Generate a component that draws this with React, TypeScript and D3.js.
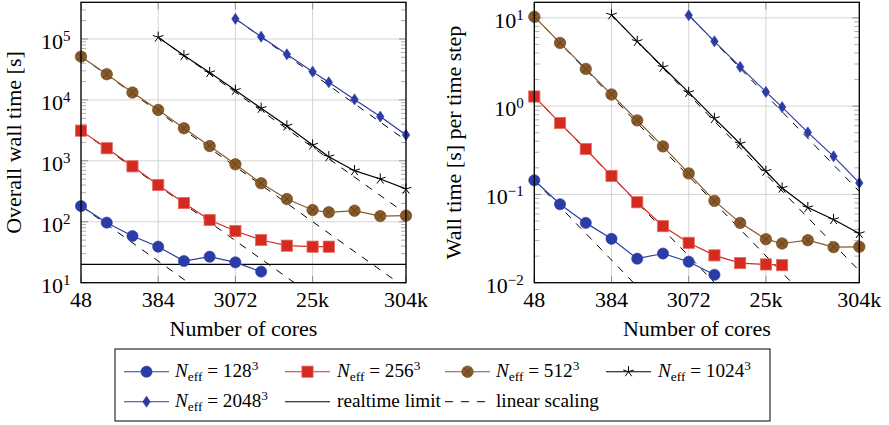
import React from 'react';
import * as d3 from 'd3';

// ---------- data ----------
const cores = [48, 96, 192, 384, 768, 1536, 3072, 6144, 12288, 24576, 38016, 76032, 152064, 304128];
const xTickValues = [48, 384, 3072, 24576, 304128];
const xTickLabels = ['48', '384', '3072', '25k', '304k'];

// overall wall time [s]
const wall128 = [181, 96.7, 58.4, 39.0, 22.7, 26.7, 21.6, 15.2];
const wall256 = [3130, 1610, 813, 402, 203, 107, 70.5, 50.2, 40.5, 39.0, 39.0];
const wall512 = [51400, 26400, 13200, 6840, 3420, 1750, 877, 428, 236, 156, 143, 152, 124, 126];
const wall1024 = [107000, 53400, 28100, 14400, 7290, 3740, 1820, 1170, 690, 504, 345];
const wall2048 = [214000, 109000, 56100, 29100, 19500, 10200, 5320, 2660];
const realtimeLimit = 20;

// wall time [s] per time step
const step128 = [0.1446, 0.0774, 0.0476, 0.0314, 0.0187, 0.0214, 0.0173, 0.0123];
const step256 = [1.285, 0.643, 0.327, 0.162, 0.0815, 0.0437, 0.0283, 0.0204, 0.0167, 0.0161, 0.0158];
const step512 = [10.3, 5.2, 2.64, 1.355, 0.689, 0.35, 0.173, 0.0845, 0.0476, 0.0311, 0.0278, 0.0303, 0.0253, 0.0255];
const step1024 = [10.8, 5.42, 2.76, 1.43, 0.726, 0.375, 0.183, 0.118, 0.071, 0.052, 0.0361];
const step2048 = [10.7, 5.42, 2.78, 1.45, 0.975, 0.504, 0.27, 0.135];

// index into cores where each series starts
const seriesNames = ['128', '256', '512', '1024', '2048'];
const seriesStart = [0, 0, 0, 3, 6];
const seriesMarker = ['circle', 'square', 'otimes', 'star', 'diamond'];
const seriesColor = ['#2c3ca6', '#d42a20', '#8a5a2a', '#000000', '#2c3ca6'];

const leftYTicks = [10, 100, 1000, 10000, 100000];
const leftYExp = ['1', '2', '3', '4', '5'];
const rightYTicks = [0.01, 0.1, 1, 10];
const rightYExp = ['\u22122', '\u22121', '0', '1'];

const FONT = 'Liberation Serif, Times New Roman, serif';
const AX = { fontFamily: FONT, fontSize: 22 } as React.CSSProperties;
const LG = { fontFamily: FONT, fontSize: 19.2 } as React.CSSProperties;
const GRID = '#d4d4d4';
const DASH = '7.5,7.5';

function Marker({ type, x, y, color }: { type: string; x: number; y: number; color: string }) {
  if (type === 'circle') {
    return <circle cx={x} cy={y} r={5.6} fill={color} stroke={color} strokeWidth={0.6} />;
  }
  if (type === 'square') {
    return <rect x={x - 5.6} y={y - 5.6} width={11.2} height={11.2} fill={color} stroke="#e86a60" strokeWidth={0.8} />;
  }
  if (type === 'otimes') {
    const r = 5.7;
    const d = r * 0.68;
    return (
      <g>
        <circle cx={x} cy={y} r={r} fill={color} stroke="#6e4a22" strokeWidth={0.7} />
        <line x1={x - d} y1={y - d} x2={x + d} y2={y + d} stroke="#5a3a18" strokeWidth={0.8} />
        <line x1={x - d} y1={y + d} x2={x + d} y2={y - d} stroke="#5a3a18" strokeWidth={0.8} />
      </g>
    );
  }
  if (type === 'star') {
    const r = 5.6;
    return (
      <g>
        {[0, 1, 2, 3, 4].map((k) => {
          const a = (-90 + 72 * k) * Math.PI / 180;
          return <line key={k} x1={x} y1={y} x2={x + r * Math.cos(a)} y2={y + r * Math.sin(a)} stroke={color} strokeWidth={1} />;
        })}
      </g>
    );
  }
  return <polygon points={`${x},${y - 5.6} ${x + 3.8},${y} ${x},${y + 5.6} ${x - 3.8},${y}`} fill={color} stroke={color} strokeWidth={0.5} />;
}

type PanelProps = {
  left: number;
  right: number;
  top: number;
  bottom: number;
  yDomain: [number, number];
  yTicks: number[];
  yExp: string[];
  series: number[][];
  realtime?: number;
  yLabel: string;
  yLabelX: number;
  id: string;
};

function Panel(p: PanelProps) {
  const x = d3.scaleLog().domain([cores[0], cores[cores.length - 1]]).range([p.left, p.right]);
  const y = d3.scaleLog().domain(p.yDomain).range([p.bottom, p.top]);
  const minor: number[] = [];
  const e0 = Math.floor(Math.log10(p.yDomain[0]));
  const e1 = Math.ceil(Math.log10(p.yDomain[1]));
  for (let e = e0; e <= e1; e++) {
    for (let m = 2; m <= 9; m++) {
      const v = m * Math.pow(10, e);
      if (v > p.yDomain[0] && v < p.yDomain[1]) minor.push(v);
    }
  }
  const line = d3.line<[number, number]>().x((d) => x(d[0])).y((d) => y(d[1]));
  const clipId = 'clip-' + p.id;
  const xMax = cores[cores.length - 1];
  return (
    <g>
      <defs>
        <clipPath id={clipId}>
          <rect x={p.left} y={p.top} width={p.right - p.left} height={p.bottom - p.top} />
        </clipPath>
      </defs>
      {xTickValues.map((v, i) => (
        <line key={'gx' + i} x1={x(v)} x2={x(v)} y1={p.top} y2={p.bottom} stroke={GRID} strokeWidth={1} />
      ))}
      {p.yTicks.map((v, i) => (
        <line key={'gy' + i} x1={p.left} x2={p.right} y1={y(v)} y2={y(v)} stroke={GRID} strokeWidth={1} />
      ))}
      {minor.map((v, i) => (
        <g key={'mn' + i}>
          <line x1={p.left} x2={p.left + 5} y1={y(v)} y2={y(v)} stroke="#9a9a9a" strokeWidth={0.8} />
          <line x1={p.right - 5} x2={p.right} y1={y(v)} y2={y(v)} stroke="#9a9a9a" strokeWidth={0.8} />
        </g>
      ))}
      {p.yTicks.map((v, i) => (
        <g key={'mj' + i}>
          <line x1={p.left} x2={p.left + 7} y1={y(v)} y2={y(v)} stroke="#888" strokeWidth={0.9} />
          <line x1={p.right - 7} x2={p.right} y1={y(v)} y2={y(v)} stroke="#888" strokeWidth={0.9} />
        </g>
      ))}
      {xTickValues.map((v, i) => (
        <g key={'mx' + i}>
          <line x1={x(v)} x2={x(v)} y1={p.bottom} y2={p.bottom - 7} stroke="#888" strokeWidth={0.9} />
          <line x1={x(v)} x2={x(v)} y1={p.top} y2={p.top + 7} stroke="#888" strokeWidth={0.9} />
        </g>
      ))}
      <g clipPath={`url(#${clipId})`}>
        {p.series.map((s, i) => {
          const x0 = cores[seriesStart[i]];
          const y0 = s[0];
          const pts: [number, number][] = [[x0, y0], [xMax, (y0 * x0) / xMax]];
          return <path key={'ls' + i} d={line(pts) || ''} fill="none" stroke="#000" strokeWidth={1} strokeDasharray={DASH} />;
        })}
        {p.realtime !== undefined && (
          <line x1={p.left} x2={p.right} y1={y(p.realtime)} y2={y(p.realtime)} stroke="#000" strokeWidth={1.1} />
        )}
        {p.series.map((s, i) => {
          const pts: [number, number][] = s.map((v, j) => [cores[seriesStart[i] + j], v]);
          return <path key={'sl' + i} d={line(pts) || ''} fill="none" stroke={seriesColor[i]} strokeWidth={1.2} />;
        })}
      </g>
      {p.series.map((s, i) => (
        <g key={'mk' + i}>
          {s.map((v, j) => (
            <Marker key={j} type={seriesMarker[i]} x={x(cores[seriesStart[i] + j])} y={y(v)} color={seriesColor[i]} />
          ))}
        </g>
      ))}
      <rect x={p.left} y={p.top} width={p.right - p.left} height={p.bottom - p.top} fill="none" stroke="#000" strokeWidth={1.3} />
      {xTickValues.map((v, i) => (
        <text key={'xl' + i} x={x(v)} y={p.bottom + 24} textAnchor="middle" style={AX}>
          {xTickLabels[i]}
        </text>
      ))}
      {p.yTicks.map((v, i) => (
        <text key={'yl' + i} x={p.left - 10.5} y={y(v) + 10} textAnchor="end" style={AX}>
          10<tspan style={{ fontSize: 15 }} dy={-8}>{p.yExp[i]}</tspan>
        </text>
      ))}
      <text x={(p.left + p.right) / 2} y={p.bottom + 53.5} textAnchor="middle" style={AX}>
        Number of cores
      </text>
      <text
        transform={`translate(${p.yLabelX},${(p.top + p.bottom) / 2}) rotate(-90)`}
        textAnchor="middle"
        style={AX}
      >
        {p.yLabel}
      </text>
    </g>
  );
}

function LegendLabel({ x, y, n }: { x: number; y: number; n: string }) {
  return (
    <text x={x} y={y} style={LG}>
      <tspan style={{ fontStyle: 'italic' }}>N</tspan>
      <tspan style={{ fontSize: 13.4 }} dy={3.5}>eff</tspan>
      <tspan dy={-3.5}>{' = ' + n}</tspan>
      <tspan style={{ fontSize: 13.4 }} dy={-7.5}>3</tspan>
    </text>
  );
}

export default function App() {
  const leftSeries = [wall128, wall256, wall512, wall1024, wall2048];
  const rightSeries = [step128, step256, step512, step1024, step2048];
  const top = 2.3;
  const bottom = 282.7;
  const row1 = 371.7;
  const row2 = 401.7;
  const legendCells = [
    { lx: 124, tx: 175, y: row1, idx: 0 },
    { lx: 285, tx: 337, y: row1, idx: 1 },
    { lx: 445, tx: 496, y: row1, idx: 2 },
    { lx: 606, tx: 658, y: row1, idx: 3 },
    { lx: 124, tx: 175, y: row2, idx: 4 },
  ];
  return (
    <svg width={889} height={425} style={{ position: 'absolute', left: 0, top: 0, background: '#fff' }}>
      <rect x={0} y={0} width={889} height={425} fill="#fff" />
      <Panel
        id="l"
        left={81}
        right={406}
        top={top}
        bottom={bottom}
        yDomain={[10, 4e5]}
        yTicks={leftYTicks}
        yExp={leftYExp}
        series={leftSeries}
        realtime={realtimeLimit}
        yLabel="Overall wall time [s]"
        yLabelX={21}
      />
      <Panel
        id="r"
        left={534.3}
        right={859.3}
        top={top}
        bottom={bottom}
        yDomain={[0.01, 15]}
        yTicks={rightYTicks}
        yExp={rightYExp}
        series={rightSeries}
        yLabel="Wall time [s] per time step"
        yLabelX={461}
      />
      <rect x={115} y={349} width={655} height={72} fill="#fff" stroke="#000" strokeWidth={1} />
      {legendCells.map((c, i) => (
        <g key={'lg' + i}>
          <line x1={c.lx} x2={c.lx + 45} y1={c.y} y2={c.y} stroke={seriesColor[c.idx]} strokeWidth={1.1} />
          <Marker type={seriesMarker[c.idx]} x={c.lx + 22.5} y={c.y} color={seriesColor[c.idx]} />
          <LegendLabel x={c.tx} y={c.y + 5.3} n={seriesNames[c.idx]} />
        </g>
      ))}
      <line x1={285} x2={330} y1={row2} y2={row2} stroke="#000" strokeWidth={1.1} />
      <text x={337} y={row2 + 5.3} style={LG}>realtime limit</text>
      <line x1={445} x2={490} y1={row2} y2={row2} stroke="#000" strokeWidth={1} strokeDasharray="8,8" />
      <text x={496} y={row2 + 5.3} style={LG}>linear scaling</text>
    </svg>
  );
}
